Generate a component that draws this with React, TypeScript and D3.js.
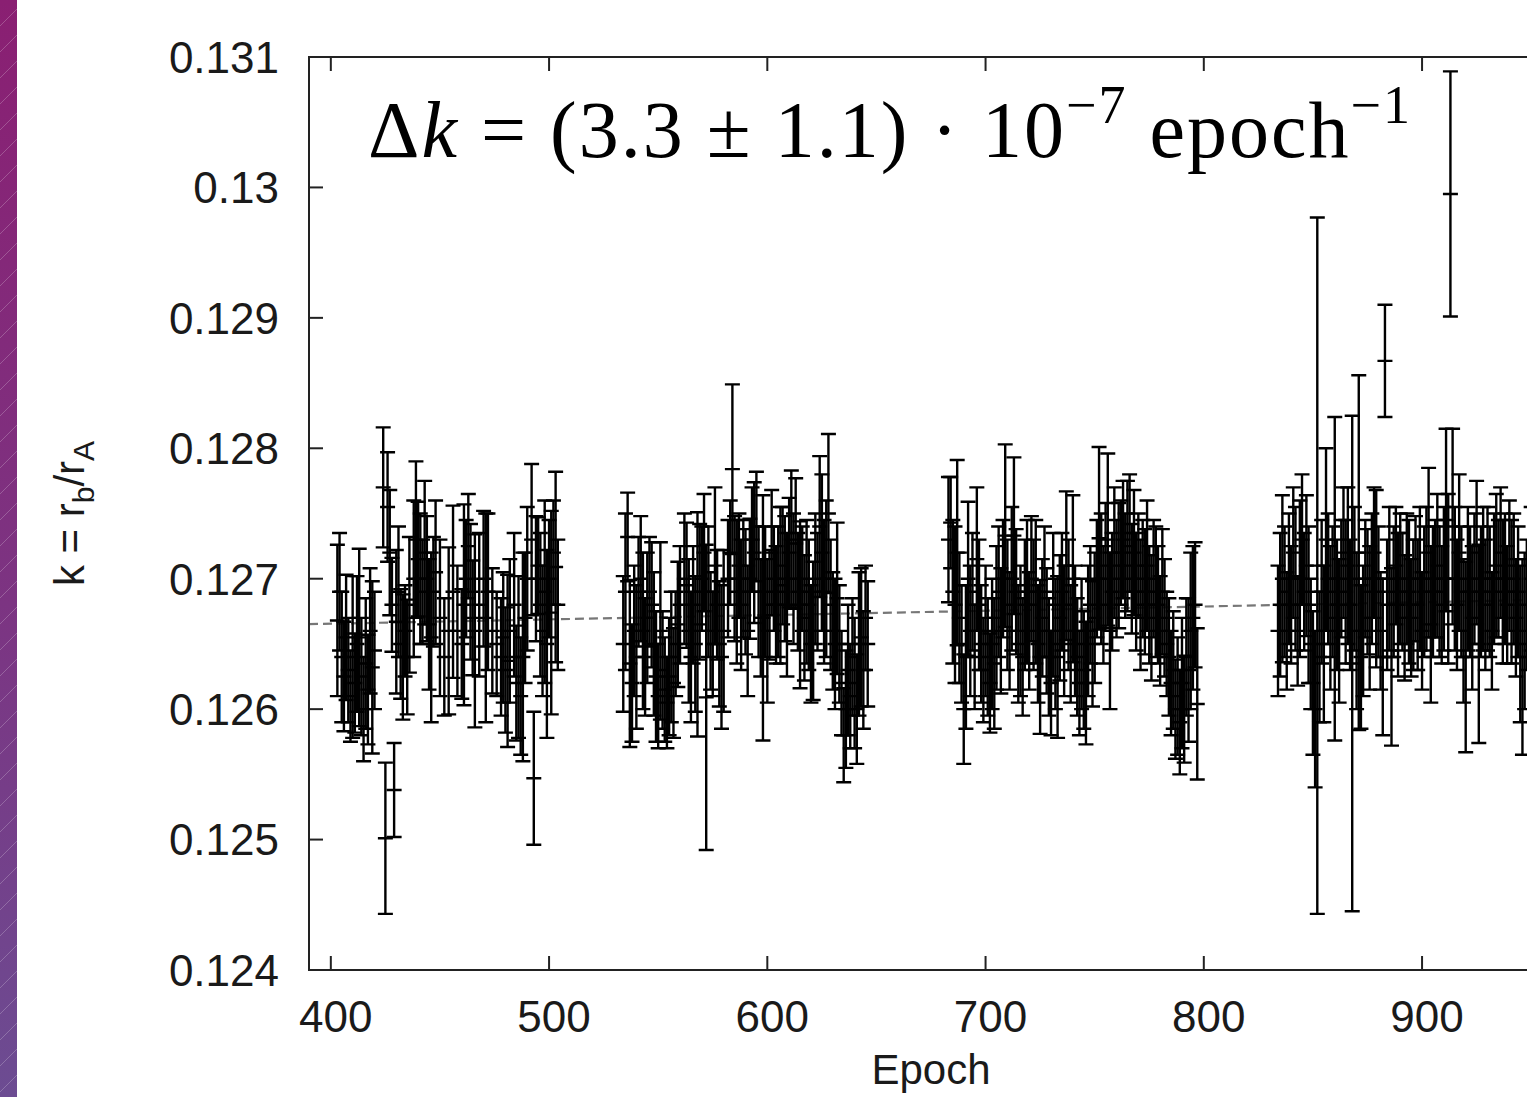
import React, { useEffect, useRef } from "react";
import * as d3 from "d3";

// transit fits, four observing seasons
const epochA = [403, 404, 405, 406, 407, 408, 409, 410, 411, 412, 413, 414, 415, 416, 417, 418, 419, 420, 424, 425, 426, 427, 428, 429, 430, 431, 432, 433, 434, 435, 436, 438, 439, 440, 441, 442, 443, 444, 445, 446, 447, 448, 450, 452, 454, 456, 458, 460, 461, 462, 463, 464, 465, 466, 468, 470, 471, 472, 474, 476, 478, 479, 480, 481, 482, 484, 485, 486, 487, 488, 489, 490, 492, 493, 494, 495, 496, 497, 498, 499, 500, 501, 502, 503, 504];
const kA = [0.12668, 0.1269, 0.1264, 0.12625, 0.12655, 0.1263, 0.1261, 0.1264, 0.1262, 0.1265, 0.12655, 0.12625, 0.126, 0.12635, 0.12615, 0.1266, 0.12632, 0.12645, 0.1277, 0.12501, 0.12755, 0.1272, 0.1268, 0.12538, 0.12667, 0.1269, 0.1265, 0.1264, 0.1266, 0.1264, 0.1268, 0.127, 0.1273, 0.12715, 0.127, 0.1269, 0.1272, 0.127, 0.12665, 0.12655, 0.1269, 0.12705, 0.1267, 0.1264, 0.1266, 0.1269, 0.1266, 0.1265, 0.1268, 0.127, 0.12725, 0.1269, 0.1267, 0.1266, 0.1268, 0.127, 0.1267, 0.1269, 0.1266, 0.1265, 0.1264, 0.12655, 0.1263, 0.12637, 0.1266, 0.1268, 0.1262, 0.1264, 0.1261, 0.1264, 0.1267, 0.127, 0.1273, 0.12547, 0.127, 0.1271, 0.1268, 0.1266, 0.1269, 0.1265, 0.127, 0.12674, 0.1272, 0.12709, 0.1268];
const errA = [0.00058, 0.00045, 0.0005, 0.00042, 0.00048, 0.0004, 0.00035, 0.00062, 0.00038, 0.00052, 0.00068, 0.00045, 0.0004, 0.0005, 0.00042, 0.00048, 0.00066, 0.00045, 0.00046, 0.00058, 0.00042, 0.00048, 0.00036, 0.00036, 0.00055, 0.0005, 0.00042, 0.00048, 0.00035, 0.00044, 0.00052, 0.0006, 0.0006, 0.00044, 0.0005, 0.0004, 0.00055, 0.00048, 0.0005, 0.00065, 0.00042, 0.00055, 0.0006, 0.00045, 0.00064, 0.00066, 0.0005, 0.00042, 0.00077, 0.00045, 0.0004, 0.00052, 0.00044, 0.00074, 0.00055, 0.00052, 0.0008, 0.0006, 0.00048, 0.0004, 0.00045, 0.0005, 0.00048, 0.00066, 0.00055, 0.00055, 0.00044, 0.00062, 0.00045, 0.0008, 0.0005, 0.00055, 0.00058, 0.00051, 0.00048, 0.00037, 0.00055, 0.0005, 0.0007, 0.00072, 0.00045, 0.00078, 0.0004, 0.00073, 0.0005];

const epochB = [534, 535, 536, 537, 538, 539, 540, 541, 542, 543, 544, 545, 546, 547, 548, 549, 550, 551, 552, 553, 554, 555, 556, 557, 558, 559, 560, 562, 563, 564, 565, 566, 567, 568, 569, 570, 571, 572, 573, 574, 575, 576, 577, 578, 579, 580, 582, 583, 584, 585, 586, 587, 588, 589, 590, 591, 592, 593, 594, 595, 596, 597, 598, 599, 600, 601, 602, 603, 604, 605, 606, 607, 608, 609, 610, 611, 612, 613, 614, 615, 616, 617, 618, 619, 620, 621, 622, 623, 624, 625, 626, 627, 628, 629, 630, 631, 632, 633, 634, 635, 636, 637, 638, 639, 640, 641, 642, 643, 644, 645, 646];
const kB = [0.1265, 0.1269, 0.12732, 0.12635, 0.1262, 0.1266, 0.1264, 0.1269, 0.127, 0.1266, 0.1264, 0.1267, 0.1269, 0.1268, 0.1265, 0.12625, 0.1261, 0.1266, 0.1263, 0.12615, 0.12605, 0.12625, 0.1264, 0.1262, 0.1265, 0.12665, 0.1268, 0.127, 0.12695, 0.1266, 0.1264, 0.1268, 0.1265, 0.12665, 0.1269, 0.127, 0.1272, 0.12609, 0.1269, 0.1266, 0.1265, 0.1271, 0.1268, 0.1265, 0.1264, 0.1266, 0.127, 0.1272, 0.12784, 0.127, 0.1269, 0.1271, 0.1268, 0.127, 0.1269, 0.1266, 0.127, 0.1273, 0.1272, 0.1274, 0.1269, 0.1267, 0.1267, 0.1269, 0.1266, 0.1268, 0.1272, 0.127, 0.1268, 0.1269, 0.12695, 0.1271, 0.127, 0.1268, 0.1272, 0.1273, 0.127, 0.12727, 0.1269, 0.1268, 0.127, 0.1267, 0.1269, 0.1268, 0.1265, 0.1266, 0.127, 0.1269, 0.1274, 0.1272, 0.1269, 0.127, 0.1275, 0.1268, 0.1266, 0.1265, 0.12685, 0.1265, 0.1262, 0.1258, 0.126, 0.1263, 0.1261, 0.1264, 0.1262, 0.126, 0.1265, 0.12655, 0.1263, 0.1267, 0.1265];
const errB = [0.00052, 0.0006, 0.00034, 0.00064, 0.00045, 0.0005, 0.00055, 0.00042, 0.00048, 0.0006, 0.00045, 0.0005, 0.00042, 0.00048, 0.00055, 0.0005, 0.0004, 0.00068, 0.00045, 0.0004, 0.00035, 0.00045, 0.0005, 0.00042, 0.0004, 0.00048, 0.00045, 0.0005, 0.00048, 0.00055, 0.0005, 0.00045, 0.00052, 0.00086, 0.00052, 0.0004, 0.00045, 0.00117, 0.0005, 0.00045, 0.0004, 0.0006, 0.00042, 0.00048, 0.00055, 0.00062, 0.00045, 0.0004, 0.00065, 0.00048, 0.00055, 0.0004, 0.0005, 0.00045, 0.00048, 0.0005, 0.00046, 0.0004, 0.00054, 0.00042, 0.0005, 0.00045, 0.00094, 0.0005, 0.00055, 0.00042, 0.00048, 0.0004, 0.00045, 0.0005, 0.0006, 0.00045, 0.00048, 0.00055, 0.00042, 0.00053, 0.0005, 0.0005, 0.00045, 0.00064, 0.0004, 0.00048, 0.00055, 0.0005, 0.00045, 0.00053, 0.0005, 0.00045, 0.00054, 0.0006, 0.00055, 0.0006, 0.00061, 0.0005, 0.00045, 0.0005, 0.00058, 0.00045, 0.0004, 0.00036, 0.00045, 0.0005, 0.0004, 0.00045, 0.0005, 0.00042, 0.00055, 0.00053, 0.00045, 0.0004, 0.00048];

const epochC = [683, 684, 685, 686, 687, 688, 689, 690, 691, 692, 693, 694, 695, 696, 697, 698, 699, 700, 701, 702, 703, 704, 705, 706, 707, 708, 709, 710, 711, 712, 713, 714, 715, 716, 717, 718, 719, 720, 721, 722, 723, 724, 725, 726, 727, 728, 729, 730, 731, 732, 733, 734, 735, 736, 737, 738, 739, 740, 741, 742, 743, 744, 745, 746, 747, 748, 749, 750, 751, 752, 753, 754, 755, 756, 757, 758, 759, 760, 761, 762, 763, 764, 765, 766, 767, 768, 769, 770, 771, 772, 773, 774, 775, 776, 777, 778, 779, 780, 781, 782, 783, 784, 785, 786, 787, 788, 789, 790, 791, 792, 793, 794, 795, 796, 797];
const kC = [0.1273, 0.12743, 0.1269, 0.1268, 0.1272, 0.1267, 0.1265, 0.126, 0.1264, 0.127, 0.1266, 0.1269, 0.1264, 0.12715, 0.1268, 0.1265, 0.1263, 0.1266, 0.1264, 0.1262, 0.1265, 0.12635, 0.1267, 0.1269, 0.1266, 0.127, 0.12733, 0.1268, 0.1266, 0.127, 0.12733, 0.1269, 0.1265, 0.1266, 0.1264, 0.1268, 0.1269, 0.1266, 0.127, 0.1268, 0.1269, 0.1265, 0.1264, 0.1267, 0.1269, 0.1266, 0.1264, 0.1262, 0.1268, 0.1265, 0.1264, 0.1267, 0.1269, 0.1266, 0.1271, 0.1268, 0.1265, 0.127, 0.1266, 0.1264, 0.1262, 0.1265, 0.1263, 0.1262, 0.1266, 0.1268, 0.1265, 0.1267, 0.127, 0.12731, 0.127, 0.1268, 0.1271, 0.1273, 0.1266, 0.1269, 0.1272, 0.127, 0.1271, 0.1272, 0.1273, 0.1271, 0.12725, 0.12735, 0.127, 0.1272, 0.1269, 0.1271, 0.1268, 0.127, 0.1269, 0.1271, 0.1268, 0.1267, 0.127, 0.1269, 0.1268, 0.1266, 0.1269, 0.1267, 0.1265, 0.1264, 0.1262, 0.1263, 0.126, 0.1261, 0.1259, 0.1262, 0.126, 0.1264, 0.1263, 0.1266, 0.1267, 0.1268, 0.12604];
const errC = [0.00048, 0.00035, 0.00055, 0.0006, 0.00071, 0.0005, 0.00045, 0.00042, 0.00055, 0.00059, 0.0005, 0.00045, 0.0004, 0.00055, 0.0005, 0.00045, 0.0004, 0.0005, 0.00045, 0.00038, 0.0005, 0.0005, 0.00055, 0.0005, 0.00048, 0.00045, 0.0007, 0.0005, 0.00045, 0.00055, 0.0006, 0.00048, 0.00045, 0.0005, 0.00045, 0.0005, 0.00055, 0.00045, 0.00048, 0.0005, 0.00055, 0.00045, 0.00059, 0.00045, 0.0005, 0.00048, 0.00045, 0.0004, 0.00055, 0.0005, 0.00062, 0.00048, 0.00045, 0.0005, 0.00057, 0.0005, 0.00045, 0.00064, 0.0005, 0.00045, 0.0004, 0.0005, 0.00045, 0.00047, 0.0005, 0.00045, 0.00048, 0.0005, 0.00045, 0.0007, 0.0005, 0.00045, 0.00048, 0.00066, 0.0006, 0.00045, 0.0005, 0.00045, 0.00048, 0.0004, 0.00045, 0.0004, 0.0005, 0.00045, 0.00042, 0.00048, 0.00045, 0.0004, 0.0005, 0.00045, 0.00048, 0.0005, 0.00045, 0.00048, 0.00045, 0.0005, 0.00045, 0.00042, 0.00048, 0.00045, 0.0004, 0.00045, 0.0004, 0.00045, 0.00038, 0.00045, 0.0004, 0.0005, 0.00041, 0.00045, 0.00055, 0.0006, 0.00055, 0.00048, 0.00058];

const epochD = [834, 835, 836, 837, 838, 839, 840, 841, 842, 843, 844, 845, 846, 847, 848, 849, 850, 851, 852, 853, 854, 855, 856, 857, 858, 859, 860, 861, 862, 863, 864, 865, 866, 867, 868, 869, 870, 871, 872, 873, 874, 875, 876, 877, 878, 879, 880, 881, 882, 883, 884, 885, 886, 887, 888, 889, 890, 891, 892, 893, 894, 895, 896, 897, 898, 899, 900, 901, 902, 903, 904, 905, 906, 907, 908, 909, 910, 911, 912, 913, 914, 915, 916, 917, 918, 919, 920, 921, 922, 923, 924, 925, 926, 927, 928, 929, 930, 931, 932, 933, 934, 935, 936, 937, 938, 939, 940, 941, 942, 943, 944, 945, 946, 947, 948, 950];
const kD = [0.1266, 0.1268, 0.127, 0.1269, 0.1266, 0.127, 0.1268, 0.1272, 0.127, 0.1266, 0.127, 0.1273, 0.1269, 0.1271, 0.1268, 0.1265, 0.1262, 0.126, 0.1271, 0.1264, 0.1269, 0.1265, 0.1273, 0.127, 0.1267, 0.1269, 0.127, 0.1268, 0.1266, 0.127, 0.1272, 0.1269, 0.1271, 0.1268, 0.12635, 0.127, 0.1266, 0.1272, 0.1264, 0.1266, 0.127, 0.1269, 0.1267, 0.127, 0.1272, 0.127, 0.1269, 0.1266, 0.1264, 0.12867, 0.1268, 0.127, 0.1264, 0.1269, 0.1271, 0.1268, 0.127, 0.1269, 0.1267, 0.127, 0.1269, 0.1267, 0.1268, 0.127, 0.1268, 0.127, 0.1266, 0.1269, 0.127, 0.1272, 0.12665, 0.1269, 0.127, 0.1271, 0.1269, 0.1268, 0.127, 0.12745, 0.127, 0.12995, 0.1274, 0.127, 0.1268, 0.1272, 0.1269, 0.1266, 0.1264, 0.127, 0.1269, 0.1267, 0.127, 0.1272, 0.1265, 0.1269, 0.127, 0.1268, 0.127, 0.1269, 0.1266, 0.127, 0.1271, 0.127, 0.1272, 0.1269, 0.127, 0.1268, 0.1271, 0.1269, 0.127, 0.1267, 0.1269, 0.1265, 0.1264, 0.1266, 0.1268, 0.127];
const errD = [0.0005, 0.00055, 0.00064, 0.0005, 0.00045, 0.0005, 0.00045, 0.0005, 0.00055, 0.00042, 0.0006, 0.0005, 0.00045, 0.00054, 0.0006, 0.0005, 0.00055, 0.0006, 0.00267, 0.0005, 0.00055, 0.0006, 0.0007, 0.0005, 0.00055, 0.0005, 0.00124, 0.0005, 0.00055, 0.00045, 0.0005, 0.00055, 0.0006, 0.0005, 0.0019, 0.00055, 0.0006, 0.00136, 0.00055, 0.0005, 0.00045, 0.00048, 0.00055, 0.0005, 0.0005, 0.00068, 0.0005, 0.00045, 0.0006, 0.00043, 0.0005, 0.00055, 0.00068, 0.0005, 0.00045, 0.00055, 0.0005, 0.00045, 0.00048, 0.0005, 0.00055, 0.00045, 0.0005, 0.00048, 0.0005, 0.00055, 0.00045, 0.0005, 0.00055, 0.00065, 0.0006, 0.0005, 0.00045, 0.00055, 0.0005, 0.00045, 0.00055, 0.0007, 0.00065, 0.00094, 0.00075, 0.00055, 0.0005, 0.0006, 0.0005, 0.00055, 0.00073, 0.00055, 0.0005, 0.00055, 0.0005, 0.00055, 0.00076, 0.0005, 0.00055, 0.0005, 0.00055, 0.0005, 0.00045, 0.0005, 0.00055, 0.00045, 0.0005, 0.00055, 0.0005, 0.00045, 0.0005, 0.00055, 0.0005, 0.00045, 0.0005, 0.0006, 0.00075, 0.0006, 0.0005, 0.00055];

const xTicks = [400, 500, 600, 700, 800, 900];
const yTicks = [0.124, 0.125, 0.126, 0.127, 0.128, 0.129, 0.13, 0.131];

// linear fit k(epoch) = k400 + dk * (epoch - 400)
const fitK400 = 0.126655;
const fitDk = 3.3e-7;

const W = 1527;
const H = 1097;

export default function App() {
  const svgRef = useRef<SVGSVGElement>(null);

  useEffect(() => {
    const svg = d3.select(svgRef.current);
    svg.selectAll("*").remove();

    const left = 309, right = 1553, top = 57, bottom = 970;

    const x = d3.scaleLinear().domain([390, 960]).range([left, right]);
    const y = d3.scaleLinear().domain([0.124, 0.131]).range([bottom, top]);

    const seasons = [
      [epochA, kA, errA],
      [epochB, kB, errB],
      [epochC, kC, errC],
      [epochD, kD, errD],
    ];
    const points = seasons.flatMap(([ep, k, e]) =>
      ep.map((v, i) => ({ epoch: v, k: k[i], err: e[i] }))
    );

    const defs = svg.append("defs");
    const grad = defs.append("linearGradient")
      .attr("id", "band").attr("x1", 0).attr("y1", 0).attr("x2", 0).attr("y2", 1);
    grad.append("stop").attr("offset", "0%").attr("stop-color", "#8a1f72");
    grad.append("stop").attr("offset", "55%").attr("stop-color", "#7c3482");
    grad.append("stop").attr("offset", "100%").attr("stop-color", "#6c4c92");
    const pat = defs.append("pattern")
      .attr("id", "stripes").attr("width", 26).attr("height", 26)
      .attr("patternUnits", "userSpaceOnUse");
    pat.append("path").attr("d", "M0,26 L26,0")
      .attr("stroke", "rgba(255,255,255,0.22)").attr("stroke-width", 1);
    defs.append("clipPath").attr("id", "plotclip")
      .append("rect").attr("x", left).attr("y", top)
      .attr("width", right - left).attr("height", bottom - top);

    svg.append("rect").attr("width", W).attr("height", H).attr("fill", "#fff");

    // purple slide edge on the left
    svg.append("rect").attr("x", 0).attr("y", 0).attr("width", 17).attr("height", H)
      .attr("fill", "url(#band)");
    svg.append("rect").attr("x", 0).attr("y", 0).attr("width", 17).attr("height", H)
      .attr("fill", "url(#stripes)");

    const plot = svg.append("g").attr("clip-path", "url(#plotclip)");

    // dashed fit line
    const fitLine = d3.line<number>()
      .x(d => x(d))
      .y(d => y(fitK400 + fitDk * (d - 400)));
    plot.append("path")
      .attr("d", fitLine(x.domain()))
      .attr("fill", "none")
      .attr("stroke", "#777")
      .attr("stroke-width", 2.2)
      .attr("stroke-dasharray", "9,5");

    // error bars
    const cap = 7.5;
    plot.selectAll(".bar")
      .data(points)
      .enter()
      .append("path")
      .attr("class", "bar")
      .attr("d", d => {
        const cx = x(d.epoch);
        const y0 = y(d.k + d.err), y1 = y(d.k - d.err), yc = y(d.k);
        return `M${cx},${y0}V${y1}M${cx - cap},${y0}H${cx + cap}M${cx - cap},${y1}H${cx + cap}M${cx - cap},${yc}H${cx + cap}`;
      })
      .attr("fill", "none")
      .attr("stroke", "#000")
      .attr("stroke-width", 2.4);

    // frame
    svg.append("rect")
      .attr("x", left).attr("y", top)
      .attr("width", right - left).attr("height", bottom - top)
      .attr("fill", "none").attr("stroke", "#222").attr("stroke-width", 2);

    const tickLen = 14;
    const axisFont = "'Liberation Sans', Arial, sans-serif";

    xTicks.forEach(t => {
      svg.append("line")
        .attr("x1", x(t)).attr("x2", x(t)).attr("y1", bottom).attr("y2", bottom - tickLen)
        .attr("stroke", "#222").attr("stroke-width", 2);
      svg.append("line")
        .attr("x1", x(t)).attr("x2", x(t)).attr("y1", top).attr("y2", top + tickLen)
        .attr("stroke", "#222").attr("stroke-width", 2);
      svg.append("text")
        .attr("x", x(t) + 5).attr("y", bottom + 62)
        .attr("text-anchor", "middle")
        .style("font-family", axisFont).style("font-size", "44px").attr("fill", "#1a1a1a")
        .text(t);
    });

    yTicks.forEach(t => {
      svg.append("line")
        .attr("x1", left).attr("x2", left + tickLen).attr("y1", y(t)).attr("y2", y(t))
        .attr("stroke", "#222").attr("stroke-width", 2);
      svg.append("text")
        .attr("x", 279).attr("y", y(t))
        .attr("dy", "0.36em")
        .attr("text-anchor", "end")
        .style("font-family", axisFont).style("font-size", "44px").attr("fill", "#1a1a1a")
        .text(String(+t.toFixed(3)));
    });

    // x axis title
    svg.append("text")
      .attr("x", (left + right) / 2).attr("y", 1084)
      .attr("text-anchor", "middle")
      .style("font-family", axisFont).style("font-size", "42px").attr("fill", "#1a1a1a")
      .text("Epoch");

    // y axis title
    const yl = svg.append("text")
      .attr("transform", `translate(84,${(top + bottom) / 2}) rotate(-90)`)
      .attr("text-anchor", "middle")
      .style("font-family", axisFont).style("font-size", "42px").attr("fill", "#1a1a1a");
    yl.append("tspan").text("k = r");
    yl.append("tspan").attr("dy", 10).style("font-size", "30px").text("b");
    yl.append("tspan").attr("dy", -10).text("/r");
    yl.append("tspan").attr("dy", 10).style("font-size", "30px").text("A");

    // slope annotation
    const ann = svg.append("text")
      .attr("x", 368).attr("y", 157)
      .attr("textLength", 1042).attr("lengthAdjust", "spacing")
      .style("font-family", "'Liberation Serif', 'Times New Roman', serif")
      .style("font-size", "80px").attr("fill", "#000");
    ann.append("tspan").text("Δ");
    ann.append("tspan").style("font-style", "italic").text("k");
    ann.append("tspan").text(" = (3.3 ± 1.1) · 10");
    ann.append("tspan").attr("dy", -34).style("font-size", "54px").text("−7");
    ann.append("tspan").attr("dy", 34).text(" epoch");
    ann.append("tspan").attr("dy", -34).style("font-size", "54px").text("−1");
  }, []);

  return (
    <div style={{ position: "fixed", left: 0, top: 0, width: W, height: H, overflow: "hidden", background: "#fff" }}>
      <svg ref={svgRef} width={W} height={H}></svg>
    </div>
  );
}
